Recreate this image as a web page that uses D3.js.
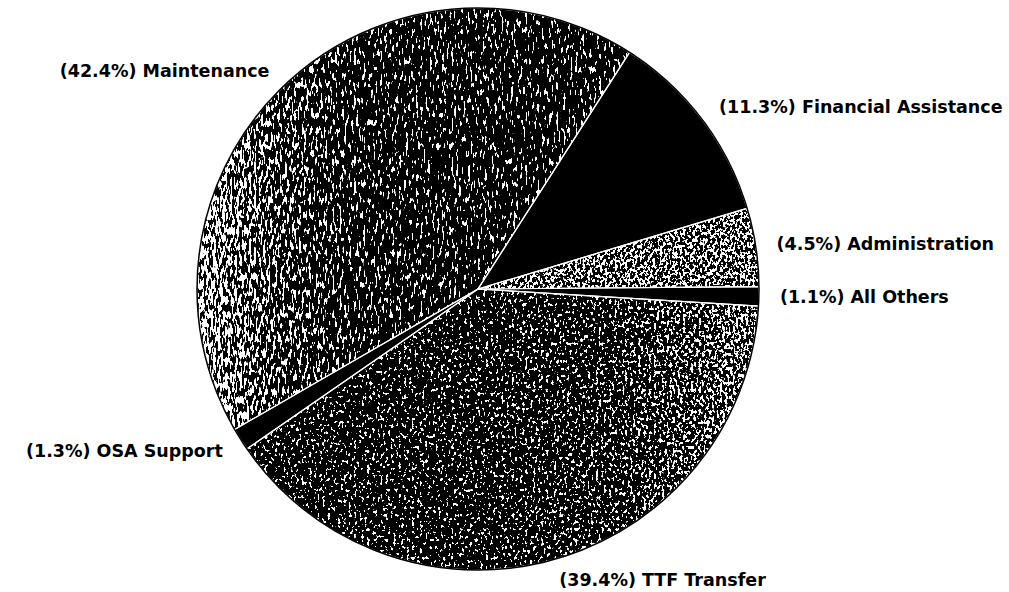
<!DOCTYPE html>
<html>
<head>
<meta charset="utf-8">
<script src="https://cdn.jsdelivr.net/npm/d3@7"></script>
<style>
  body { margin: 0; background: #fff; }
  .label { font-family: 'DejaVu Sans', 'Liberation Sans', sans-serif; font-weight: bold; font-size: 17.5px; fill: #000; }
</style>
</head>
<body>
<script>
// budget shares, clockwise starting at the Maintenance slice
const categories = ['Maintenance', 'Financial Assistance', 'Administration', 'All Others', 'TTF Transfer', 'OSA Support']
const shares = [42.4, 11.3, 4.5, 1.1, 39.4, 1.3]

const width = 1009
const height = 592
const radius = 281
const cx = 478
const cy = 289

// speckle textures (solid black slices have none)
const textures = {
  'Maintenance': { seed: 4, freq: '0.42 0.13', thr: 0.63, grad: [-radius, 0, 0, 0], stops: [[0, 0.17], [0.3, 0.08], [0.6, 0.02], [1, 0.01]] },
  'Administration': { seed: 9, freq: '0.4 0.3', thr: 0.6, grad: [0, 0, radius, 0], stops: [[0, 0.09], [1, 0.09]] },
  'TTF Transfer': { seed: 13, freq: '0.38 0.28', thr: 0.63, grad: [0, 0, radius, 0], stops: [[0, 0.01], [0.5, 0.04], [1, 0.13]] }
}

const data = categories.map((c, i) => ({ name: c, value: shares[i] }))

const svg = d3
  .select('body')
  .append('svg')
  .attr('width', width)
  .attr('height', height)

const defs = svg.append('defs')

const g = svg.append('g').attr('transform', 'translate(' + cx + ',' + cy + ')')

Object.keys(textures).forEach((name, i) => {
  const t = textures[name]
  const grad = defs
    .append('linearGradient')
    .attr('id', 'grad' + i)
    .attr('gradientUnits', 'userSpaceOnUse')
    .attr('x1', t.grad[0])
    .attr('y1', t.grad[1])
    .attr('x2', t.grad[2])
    .attr('y2', t.grad[3])
  t.stops.forEach(s => {
    const v = Math.round(s[1] * 255)
    grad.append('stop').attr('offset', s[0]).attr('stop-color', `rgb(${v},${v},${v})`)
  })

  const f = defs
    .append('filter')
    .attr('id', 'speck' + i)
    .attr('filterUnits', 'userSpaceOnUse')
    .attr('x', -300)
    .attr('y', -300)
    .attr('width', 600)
    .attr('height', 600)
    .attr('color-interpolation-filters', 'sRGB')
  f.append('feTurbulence')
    .attr('type', 'fractalNoise')
    .attr('baseFrequency', t.freq)
    .attr('numOctaves', 2)
    .attr('seed', t.seed)
    .attr('result', 'noise')
  f.append('feColorMatrix')
    .attr('in', 'noise')
    .attr('type', 'matrix')
    .attr('values', '1 0 0 0 0  1 0 0 0 0  1 0 0 0 0  0 0 0 0 1')
    .attr('result', 'n1')
  f.append('feComposite')
    .attr('in', 'n1')
    .attr('in2', 'SourceGraphic')
    .attr('operator', 'arithmetic')
    .attr('k1', 0)
    .attr('k2', 1)
    .attr('k3', 1)
    .attr('k4', 0)
    .attr('result', 'sum')
  f.append('feColorMatrix')
    .attr('in', 'sum')
    .attr('type', 'matrix')
    .attr('values', '0 0 0 0 1  0 0 0 0 1  0 0 0 0 1  1 0 0 0 0')
    .attr('result', 'w')
  const ct = f.append('feComponentTransfer').attr('in', 'w').attr('result', 'th')
  ct.append('feFuncA').attr('type', 'linear').attr('slope', 40).attr('intercept', -40 * t.thr)
  f.append('feComposite').attr('in', 'th').attr('in2', 'SourceAlpha').attr('operator', 'in')

  t.idx = i
})

const pie = d3
  .pie()
  .sort(null)
  .value(d => d.value)
  .startAngle((-120 * Math.PI) / 180)
  .endAngle((240 * Math.PI) / 180)

const arc = d3.arc().innerRadius(0).outerRadius(radius)
const labelArc = d3.arc().innerRadius(302).outerRadius(302)

const arcs = pie(data)

// base black fill
g.selectAll('path.base')
  .data(arcs)
  .enter()
  .append('path')
  .attr('class', 'base')
  .attr('d', arc)
  .attr('fill', '#000')

// white speckles on textured slices
g.selectAll('path.tex')
  .data(arcs.filter(d => textures[d.data.name]))
  .enter()
  .append('path')
  .attr('class', 'tex')
  .attr('d', arc)
  .attr('fill', d => 'url(#grad' + textures[d.data.name].idx + ')')
  .attr('filter', d => 'url(#speck' + textures[d.data.name].idx + ')')

// thin white separators
g.selectAll('path.sep')
  .data(arcs)
  .enter()
  .append('path')
  .attr('class', 'sep')
  .attr('d', arc)
  .attr('fill', 'none')
  .attr('stroke', '#fff')
  .attr('stroke-width', 1.2)

g.append('circle')
  .attr('r', radius)
  .attr('fill', 'none')
  .attr('stroke', '#000')
  .attr('stroke-width', 1.5)

g.selectAll('text.label')
  .data(arcs)
  .enter()
  .append('text')
  .attr('class', 'label')
  .attr('transform', d => 'translate(' + labelArc.centroid(d) + ')')
  .attr('dy', '0.35em')
  .attr('text-anchor', d => (Math.sin((d.startAngle + d.endAngle) / 2) >= 0 ? 'start' : 'end'))
  .text(d => '(' + d.data.value.toFixed(1) + '%) ' + d.data.name)
</script>
</body>
</html>
